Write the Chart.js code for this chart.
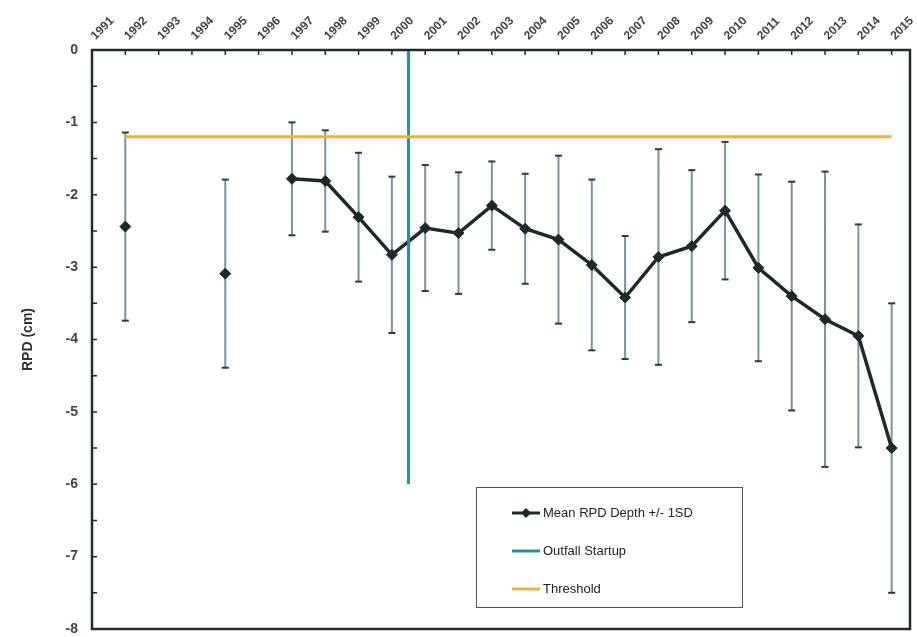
<!DOCTYPE html>
<html>
<head>
<meta charset="utf-8">
<title>Mean RPD Depth</title>
<script src="https://cdn.jsdelivr.net/npm/chart.js@4.4.1/dist/chart.umd.min.js"></script>
<style>
  html, body { margin: 0; padding: 0; background: #fff; }
  #wrap { width: 917px; height: 637px; }
</style>
</head>
<body>
<div id="wrap"><canvas id="rpdChart" width="917" height="637"></canvas></div>
<script>
// survey years and mean RPD depth (cm) +/- 1 SD, null = no survey
const years   = [1991, 1992, 1993, 1994, 1995, 1996, 1997, 1998, 1999, 2000, 2001, 2002,
                 2003, 2004, 2005, 2006, 2007, 2008, 2009, 2010, 2011, 2012, 2013, 2014];
const meanRPD = [-2.44, null, null, -3.09, null, -1.78, -1.81, -2.31, -2.83, -2.46, -2.53, -2.15,
                 -2.47, -2.62, -2.97, -3.42, -2.86, -2.71, -2.22, -3.01, -3.40, -3.72, -3.95, -5.50];
const sdRPD   = [1.30, null, null, 1.30, null, 0.78, 0.70, 0.89, 1.08, 0.87, 0.84, 0.61,
                 0.76, 1.16, 1.18, 0.85, 1.49, 1.05, 0.95, 1.29, 1.58, 2.04, 1.54, 2.00];

// top axis labels
const tickYears = [1991, 1992, 1993, 1994, 1995, 1996, 1997, 1998, 1999, 2000, 2001, 2002, 2003,
                   2004, 2005, 2006, 2007, 2008, 2009, 2010, 2011, 2012, 2013, 2014, 2015];

const thresholdValue = -1.2;
const thresholdYears = [1991, 2014];
const outfallYear = 1999.5;
const outfallRange = [0, -6];

const yMin = -8, yMax = 0;

const meanPts = years.map((y, i) => ({ x: y, y: meanRPD[i] }));
const whiskerPts = [];
const capPts = [];
years.forEach((y, i) => {
  if (meanRPD[i] == null) return;
  const hi = meanRPD[i] + sdRPD[i], lo = meanRPD[i] - sdRPD[i];
  whiskerPts.push({ x: y, y: hi }, { x: y, y: lo }, { x: y, y: null });
  capPts.push({ x: y, y: hi }, { x: y, y: lo });
});

const lineColor = '#1d2b28';
const whiskerColor = '#7893a2';
const thresholdColor = '#f0b232';
const outfallColor = '#2a8ca2';

const framePlugin = {
  id: 'frame',
  afterDatasetsDraw(chart) {
    const { ctx, chartArea: a, scales } = chart;
    ctx.save();
    ctx.strokeStyle = '#1f2d2b';
    ctx.lineWidth = 1.5;
    ctx.beginPath();
    scales.x.ticks.forEach(t => {
      const px = scales.x.getPixelForValue(t.value);
      if (px <= a.left + 1 || px >= a.right - 1) return;
      ctx.moveTo(px, a.top); ctx.lineTo(px, a.top + 5);
    });
    for (let v = yMin + 0.5; v < yMax; v += 0.5) {
      const py = scales.y.getPixelForValue(v);
      ctx.moveTo(a.left, py); ctx.lineTo(a.left + 5, py);
    }
    ctx.stroke();
    ctx.lineWidth = 2.5;
    ctx.strokeRect(a.left, a.top, a.right - a.left, a.bottom - a.top);
    ctx.restore();
  }
};

// legend box inside the plot, bottom middle
const legendPlugin = {
  id: 'boxLegend',
  afterDraw(chart) {
    const { ctx, chartArea: a } = chart;
    const bx = a.left + 384, by = a.top + 437, bw = 266, bh = 120;
    ctx.save();
    ctx.fillStyle = '#fff';
    ctx.fillRect(bx, by, bw, bh);
    ctx.strokeStyle = '#555';
    ctx.lineWidth = 1;
    ctx.strokeRect(bx + 0.5, by + 0.5, bw, bh);

    const items = [
      { text: 'Mean RPD Depth +/- 1SD', color: lineColor, marker: true },
      { text: 'Outfall Startup', color: outfallColor },
      { text: 'Threshold', color: thresholdColor }
    ];
    ctx.font = '13px "Liberation Sans", Arial, sans-serif';
    ctx.textBaseline = 'middle';
    items.forEach((it, i) => {
      const y = by + 26 + i * 38;
      const x0 = bx + 36, x1 = bx + 64;
      ctx.strokeStyle = it.color;
      ctx.lineWidth = 3;
      ctx.beginPath(); ctx.moveTo(x0, y); ctx.lineTo(x1, y); ctx.stroke();
      if (it.marker) {
        const cx = (x0 + x1) / 2;
        ctx.fillStyle = it.color;
        ctx.beginPath();
        ctx.moveTo(cx, y - 5); ctx.lineTo(cx + 5, y); ctx.lineTo(cx, y + 5); ctx.lineTo(cx - 5, y);
        ctx.closePath(); ctx.fill();
      }
      ctx.fillStyle = '#222';
      ctx.fillText(it.text, x1 + 3, y);
    });
    ctx.restore();
  }
};

new Chart(document.getElementById('rpdChart'), {
  type: 'line',
  data: {
    datasets: [
      {
        label: 'Threshold',
        data: thresholdYears.map(y => ({ x: y, y: thresholdValue })),
        borderColor: thresholdColor,
        borderWidth: 3,
        pointRadius: 0,
        order: 0
      },
      {
        label: 'Outfall Startup',
        data: outfallRange.map(v => ({ x: outfallYear, y: v })),
        borderColor: outfallColor,
        borderWidth: 3,
        pointRadius: 0,
        order: 1
      },
      {
        label: 'Mean RPD Depth +/- 1SD',
        data: meanPts,
        borderColor: lineColor,
        backgroundColor: lineColor,
        borderWidth: 3.5,
        pointStyle: 'rectRot',
        pointRadius: 5.5,
        pointBorderWidth: 1,
        spanGaps: false,
        order: 2
      },
      {
        label: 'caps',
        data: capPts,
        showLine: false,
        pointStyle: 'line',
        pointRadius: 3.5,
        borderColor: '#2f3a3a',
        pointBorderWidth: 2,
        order: 3
      },
      {
        label: 'sd',
        data: whiskerPts,
        borderColor: whiskerColor,
        borderWidth: 2,
        pointRadius: 0,
        spanGaps: false,
        order: 4
      }
    ]
  },
  options: {
    responsive: false,
    animation: false,
    layout: { padding: { left: 0, right: 7, top: 0, bottom: 8 } },
    plugins: {
      legend: { display: false },
      tooltip: { enabled: false }
    },
    scales: {
      x: {
        type: 'linear',
        position: 'top',
        min: 1990,
        max: 2014.55,
        afterBuildTicks: s => { s.ticks = tickYears.map(v => ({ value: v })); },
        afterFit: s => { s.height = 50; s.paddingLeft = 0; s.paddingRight = 0; },
        grid: { display: false, drawTicks: false },
        border: { display: false },
        ticks: {
          autoSkip: false,
          minRotation: 45,
          maxRotation: 45,
          labelOffset: -22,
          padding: 7,
          color: '#444',
          font: { family: '"Liberation Sans", Arial, sans-serif', size: 12, weight: 'bold' },
          callback: v => String(v)
        }
      },
      y: {
        min: yMin,
        max: yMax,
        afterFit: s => { s.width = 92; s.paddingTop = 0; s.paddingBottom = 0; },
        grid: { display: false, drawTicks: false },
        border: { display: false },
        ticks: {
          stepSize: 1,
          padding: 14,
          color: '#444',
          font: { family: '"Liberation Sans", Arial, sans-serif', size: 14, weight: 'bold' }
        },
        title: {
          display: true,
          text: 'RPD (cm)',
          color: '#333',
          padding: { top: 20, bottom: 0 },
          font: { family: '"Liberation Sans", Arial, sans-serif', size: 14, weight: 'bold' }
        }
      }
    }
  },
  plugins: [framePlugin, legendPlugin]
});
</script>
</body>
</html>
